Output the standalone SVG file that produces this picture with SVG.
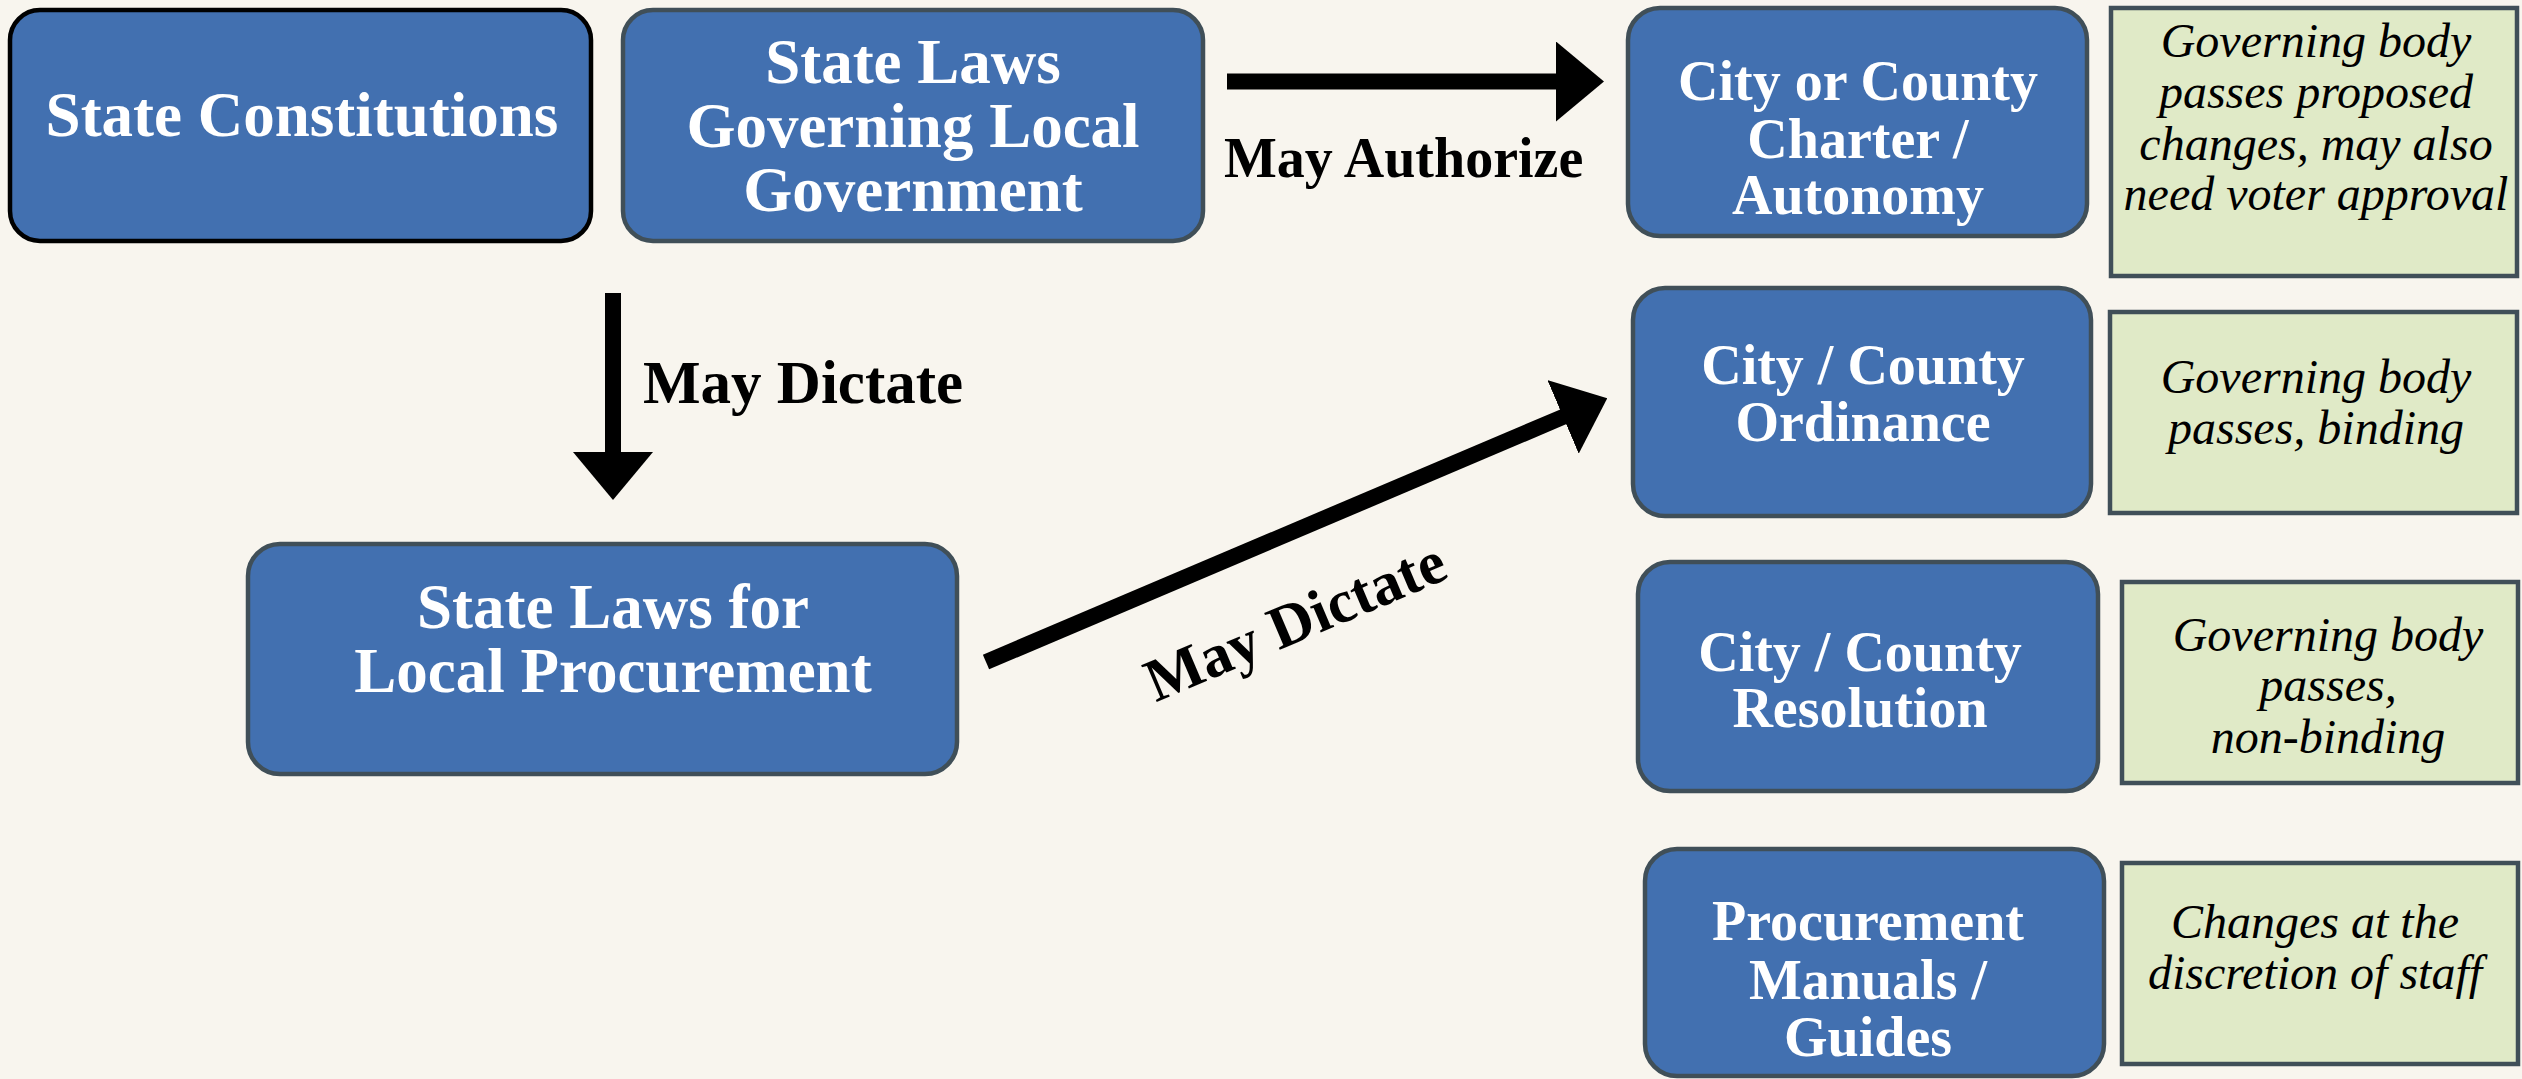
<svg xmlns="http://www.w3.org/2000/svg" width="2522" height="1079" viewBox="0 0 2522 1079">
<style>
.bg{fill:#F8F5EE}
.node rect{fill:#4270B0;stroke:#404F58;stroke-width:4.5}
.node text{font-family:"Liberation Serif","Times New Roman",serif;font-weight:bold;fill:#FFFFFF;text-anchor:middle}
.big text{font-size:63px}
.mid text{font-size:56px}
.note rect{fill:#E0EAC7;stroke:#404F58;stroke-width:4.5}
.note text{font-family:"Liberation Serif","Times New Roman",serif;font-style:italic;font-size:48px;fill:#000000;text-anchor:middle}
.lbl{font-family:"Liberation Serif","Times New Roman",serif;font-weight:bold;fill:#000000}
.conn line{stroke:#000000;stroke-width:16;fill:none;marker-end:url(#head)}
</style>
<defs>
<marker id="head" markerUnits="userSpaceOnUse" markerWidth="48" markerHeight="80" viewBox="0 0 48 80" refX="1" refY="40" orient="auto">
<path d="M0,0 L48,40 L0,80 Z" fill="#000000"/>
</marker>
</defs>
<rect class="bg" x="0" y="0" width="2522" height="1079"/>

<g id="state-constitutions" class="node big">
<rect x="10" y="10" width="581" height="231" rx="30" ry="30" style="stroke:#000000"/>
<text x="302" y="136">State Constitutions</text>
</g>

<g id="state-laws-governing" class="node big">
<rect x="623" y="10" width="580" height="231" rx="30" ry="30"/>
<text x="913" y="83">State Laws</text>
<text x="913" y="147">Governing Local</text>
<text x="913" y="211">Government</text>
</g>

<g id="charter" class="node mid">
<rect x="1628" y="8" width="459" height="228" rx="32" ry="32"/>
<text x="1858" y="100">City or County</text>
<text x="1858" y="158">Charter /</text>
<text x="1858" y="214">Autonomy</text>
</g>

<g id="note-charter" class="note">
<rect x="2111" y="8" width="406" height="268"/>
<text x="2316" y="57">Governing body</text>
<text x="2316" y="108">passes proposed</text>
<text x="2316" y="160">changes, may also</text>
<text x="2316" y="210">need voter approval</text>
</g>

<g id="ordinance" class="node mid">
<rect x="1633" y="288" width="458" height="228" rx="32" ry="32"/>
<text x="1863" y="384">City / County</text>
<text x="1863" y="441">Ordinance</text>
</g>

<g id="note-ordinance" class="note">
<rect x="2110" y="312" width="407" height="201"/>
<text x="2316" y="393">Governing body</text>
<text x="2316" y="444">passes, binding</text>
</g>

<g id="resolution" class="node mid">
<rect x="1638" y="562" width="460" height="229" rx="32" ry="32"/>
<text x="1860" y="671">City / County</text>
<text x="1860" y="727">Resolution</text>
</g>

<g id="note-resolution" class="note">
<rect x="2122" y="582" width="396" height="201"/>
<text x="2328" y="651">Governing body</text>
<text x="2328" y="701">passes,</text>
<text x="2328" y="753">non-binding</text>
</g>

<g id="manuals" class="node mid">
<rect x="1645" y="849" width="459" height="227" rx="32" ry="32"/>
<text x="1868" y="940">Procurement</text>
<text x="1868" y="999">Manuals /</text>
<text x="1868" y="1056">Guides</text>
</g>

<g id="note-manuals" class="note">
<rect x="2122" y="863" width="396" height="201"/>
<text x="2315" y="938">Changes at the</text>
<text x="2315" y="989">discretion of staff</text>
</g>

<g id="state-laws-procurement" class="node big">
<rect x="248" y="544" width="709" height="230" rx="32" ry="32"/>
<text x="613" y="628">State Laws for</text>
<text x="613" y="692">Local Procurement</text>
</g>

<g id="connectors" class="conn">
<line x1="1227" y1="81.5" x2="1557" y2="81.5"/>
<line x1="613" y1="293" x2="613" y2="453"/>
<line x1="986" y1="662" x2="1564" y2="416.5"/>
</g>

<g id="labels">
<text class="lbl" x="1224" y="177" font-size="56">May Authorize</text>
<text class="lbl" x="643" y="403" font-size="61">May Dictate</text>
<text class="lbl" font-size="61" text-anchor="middle" transform="translate(1303,640) rotate(-23)">May Dictate</text>
</g>
</svg>
